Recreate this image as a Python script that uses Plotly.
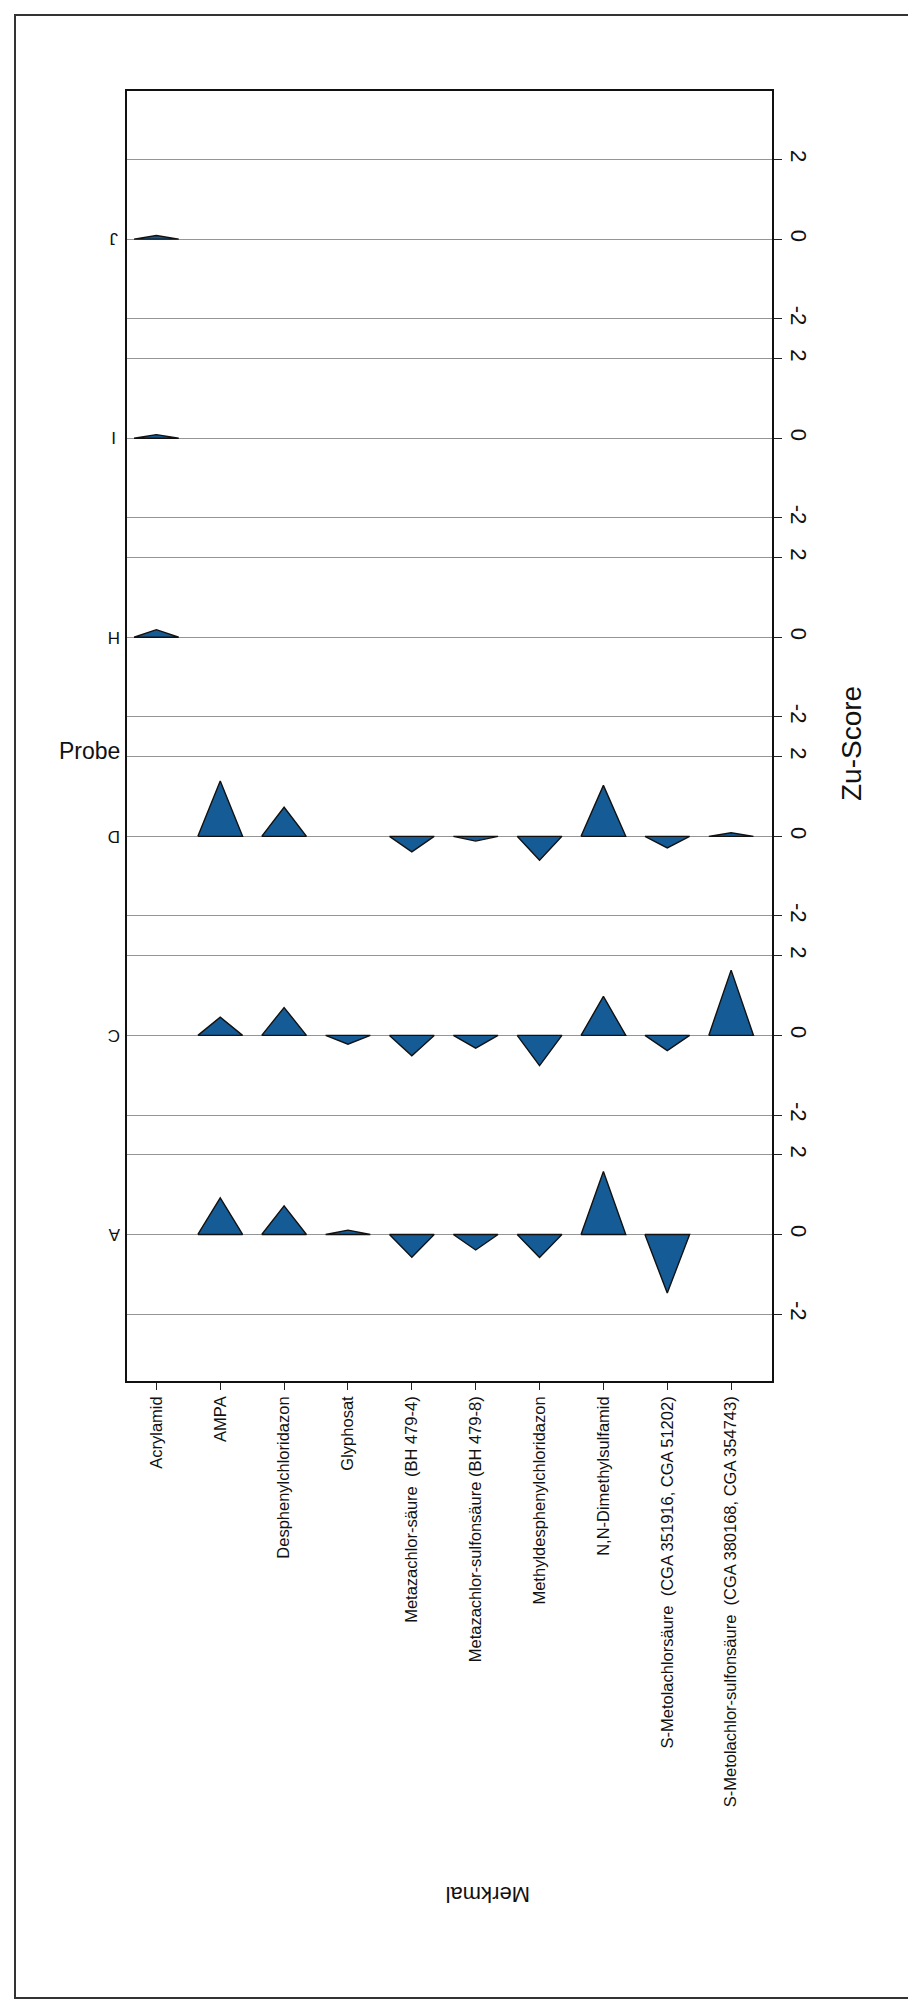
import plotly.graph_objects as go

# ---- data ----
features = [
    "Acrylamid",
    "AMPA",
    "Desphenylchloridazon",
    "Glyphosat",
    "Metazachlor-säure  (BH 479-4)",
    "Metazachlor-sulfonsäure (BH 479-8)",
    "Methyldesphenylchloridazon",
    "N,N-Dimethylsulfamid",
    "S-Metolachlorsäure  (CGA 351916, CGA 51202)",
    "S-Metolachlor-sulfonsäure  (CGA 380168, CGA 354743)",
]
samples = ["A", "C", "D", "H", "I", "J"]

z_A = [None, 0.92, 0.72, 0.11, -0.57, -0.39, -0.58, 1.58, -1.47, None]
z_C = [None, 0.46, 0.70, -0.22, -0.51, -0.32, -0.76, 0.98, -0.38, 1.64]
z_D = [None, 1.39, 0.73, None, -0.39, -0.12, -0.60, 1.28, -0.29, 0.09]
z_H = [0.19, None, None, None, None, None, None, None, None, None]
z_I = [0.09, None, None, None, None, None, None, None, None, None]
z_J = [0.09, None, None, None, None, None, None, None, None, None]
zscores = [z_A, z_C, z_D, z_H, z_I, z_J]

panel_ticks = [2, 0, -2]
tick_labels = ["2", "0", "-2"]

# ---- styling / layout ----
W, H = 916, 2014
PL, PR, PT, PB = 119, 764, 83, 1373
PANEL_STEP = 5.0
HALF_W = 0.35
FILL = "#155C96"
FONT = "Liberation Sans, Arial, sans-serif"

fig = go.Figure()

for si, (name, vals) in enumerate(zip(samples, zscores)):
    off = si * PANEL_STEP
    for fi, v in enumerate(vals):
        if v is None:
            continue
        fig.add_trace(go.Scatter(
            x=[fi - HALF_W, fi, fi + HALF_W, fi - HALF_W],
            y=[off, off + v, off, off],
            mode="lines", fill="toself", fillcolor=FILL,
            line=dict(color="#111111", width=1.4),
            hoverinfo="skip", showlegend=False,
        ))

yt_vals, yt_text = [], []
for si in range(len(samples)):
    off = si * PANEL_STEP
    for t, lab in zip(panel_ticks, tick_labels):
        yt_vals.append(off + t)
        yt_text.append(lab)

ymin = -3.68
ymax = (len(samples) - 1) * PANEL_STEP + 3.72

fig.update_layout(
    width=W, height=H, autosize=False,
    margin=dict(l=PL, r=W - PR, t=PT, b=H - PB),
    paper_bgcolor="white", plot_bgcolor="white",
    font=dict(family=FONT, color="#111111"),
    showlegend=False,
    xaxis=dict(
        range=[-0.46, 9.64],
        tickmode="array", tickvals=list(range(len(features))), ticktext=features,
        tickangle=-90, ticks="outside", ticklen=7, tickcolor="#222",
        tickfont=dict(size=16.5, family=FONT, color="#111"),
        showgrid=False, zeroline=False,
        showline=True, mirror=True, linecolor="#111", linewidth=1.5,
        fixedrange=True,
    ),
    yaxis=dict(
        range=[ymin, ymax], side="right",
        tickmode="array", tickvals=yt_vals, ticktext=yt_text,
        tickangle=90, ticks="outside", ticklen=8, tickcolor="#222",
        tickfont=dict(size=22, family=FONT, color="#111"),
        showgrid=True, gridcolor="#959595", gridwidth=1,
        zeroline=False,
        showline=True, mirror=True, linecolor="#111", linewidth=1.5,
        fixedrange=True,
    ),
)

pw = PR - PL
ph = PB - PT


def px_x(x):
    return (x - PL) / pw


def px_y(y):
    return (PB - y) / ph


annotations = []
for si, name in enumerate(samples):
    annotations.append(dict(
        x=px_x(106), xref="paper", y=si * PANEL_STEP, yref="y",
        text=name, showarrow=False, textangle=180,
        xanchor="center", yanchor="middle",
        font=dict(size=17, family=FONT, color="#111"),
    ))

annotations.append(dict(
    x=px_x(81), xref="paper", y=px_y(743), yref="paper",
    text="Probe", showarrow=False, xanchor="center", yanchor="middle",
    font=dict(size=23, family=FONT, color="#111"),
))
annotations.append(dict(
    x=px_x(843), xref="paper", y=px_y(736), yref="paper",
    text="Zu-Score", showarrow=False, textangle=-90,
    xanchor="center", yanchor="middle",
    font=dict(size=28, family=FONT, color="#111"),
))
annotations.append(dict(
    x=px_x(480), xref="paper", y=px_y(1887), yref="paper",
    text="Merkmal", showarrow=False, textangle=180,
    xanchor="center", yanchor="middle",
    font=dict(size=22, family=FONT, color="#111"),
))
fig.update_layout(annotations=annotations)

# page border around the scanned sheet
fig.add_shape(
    type="rect", xref="paper", yref="paper",
    x0=px_x(7), x1=px_x(911), y0=px_y(7), y1=px_y(1990),
    line=dict(color="#333333", width=2), fillcolor="rgba(0,0,0,0)",
    layer="below",
)

fig.write_html("out.html")
